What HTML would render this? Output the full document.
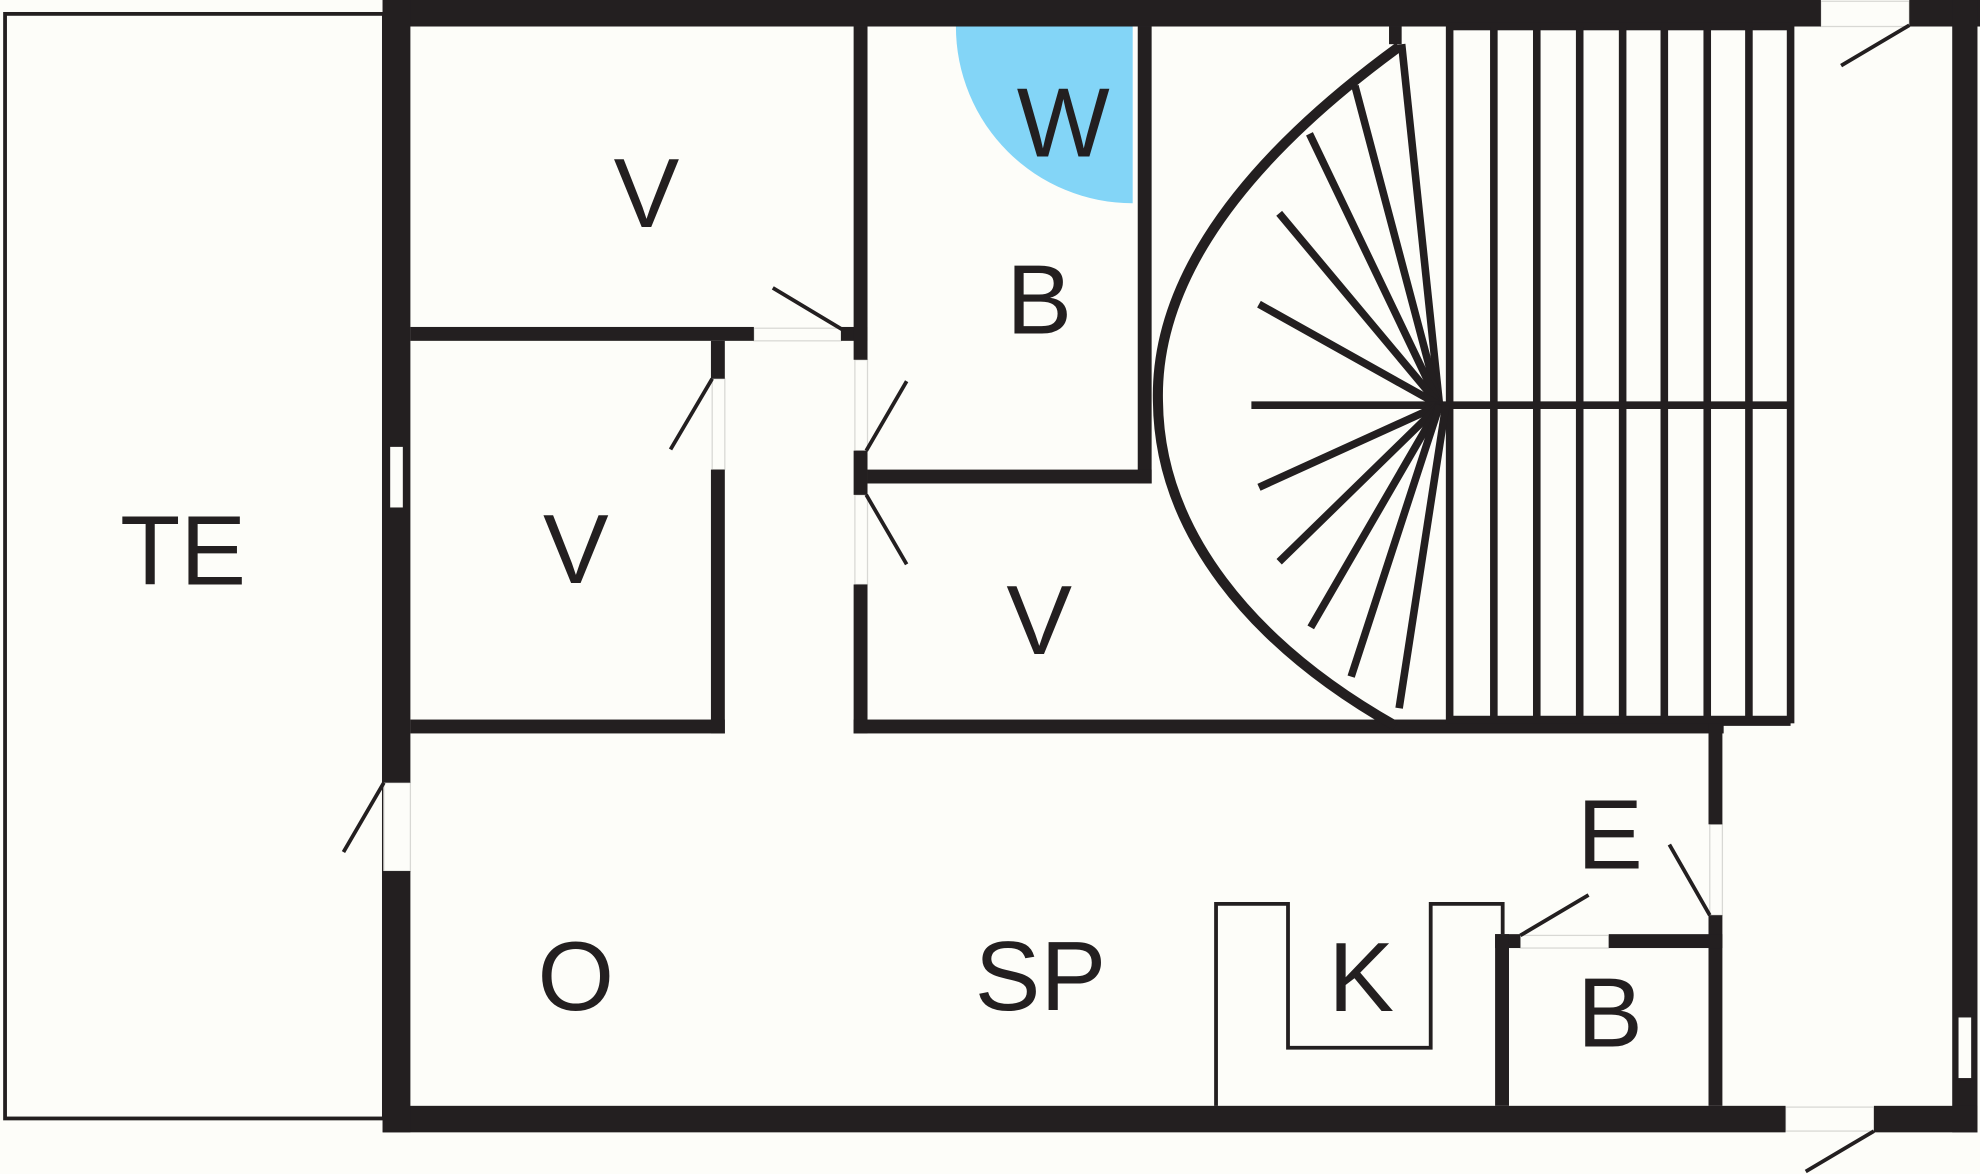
<!DOCTYPE html>
<html><head><meta charset="utf-8"><style>html,body{margin:0;padding:0;background:#fdfdf9}svg{display:block}</style></head><body>
<svg width="1980" height="1174" viewBox="0 0 1568 930" preserveAspectRatio="none" xmlns="http://www.w3.org/2000/svg">
<rect width="1568" height="930" fill="#fdfdf9"/>
<rect x="4" y="11" width="300" height="875" fill="none" stroke="#231f20" stroke-width="3"/>
<path d="M757,21 A140,140 0 0 0 897,161 L897,21 Z" fill="#83d5f7"/>
<g fill="#fdfdf9" stroke="#d8d8d4" stroke-width="1">
<rect x="564" y="300" width="10" height="72"/>
<rect x="677" y="285" width="10" height="72"/>
<rect x="677" y="392" width="10" height="71"/>
<rect x="304" y="620" width="21" height="70"/>
<rect x="1354" y="653" width="10" height="72"/>
<rect x="597" y="260" width="69" height="10"/>
<rect x="1442" y="1" width="70" height="20"/>
<rect x="1414" y="877" width="70" height="19"/>
<rect x="1204" y="741" width="70" height="10"/>
</g>
<g fill="#231f20">
<rect x="303" y="0" width="1139" height="21"/>
<rect x="1512" y="0" width="56" height="21"/>
<rect x="1546" y="0" width="20" height="897"/>
<rect x="303" y="876" width="1111" height="21"/>
<rect x="1484" y="876" width="82" height="21"/>
<rect x="303" y="0" width="22" height="620"/>
<rect x="303" y="690" width="22" height="207"/>
<rect x="325" y="259" width="272" height="11"/>
<rect x="666" y="259" width="21" height="11"/>
<rect x="676" y="21" width="11" height="264"/>
<rect x="676" y="357" width="11" height="35"/>
<rect x="676" y="463" width="11" height="118"/>
<rect x="563" y="270" width="11" height="30"/>
<rect x="563" y="372" width="11" height="209"/>
<rect x="325" y="570" width="249" height="11"/>
<rect x="676" y="570" width="689" height="11"/>
<rect x="901" y="21" width="11" height="362"/>
<rect x="687" y="372" width="225" height="11"/>
<rect x="1353" y="570" width="11" height="83"/>
<rect x="1353" y="725" width="11" height="151"/>
<rect x="1274" y="740" width="90" height="11"/>
<rect x="1184" y="740" width="20" height="11"/>
<rect x="1184" y="740" width="11" height="136"/>
<rect x="1100" y="21" width="10" height="14"/>
</g>
<g fill="#fdfdf9" stroke="#231f20" stroke-width="2">
<rect x="308" y="353" width="12" height="50"/>
<rect x="1550" y="805" width="12" height="50"/>
</g>
<polyline points="963,876 963,716 1020,716 1020,830 1133,830 1133,716 1190,716 1190,740" fill="none" stroke="#231f20" stroke-width="3"/>
<g stroke="#231f20" stroke-width="6" fill="none">
<rect x="1148" y="21" width="270" height="549"/>
<line x1="1183" y1="21" x2="1183" y2="570"/><line x1="1217" y1="21" x2="1217" y2="570"/>
<line x1="1251" y1="21" x2="1251" y2="570"/><line x1="1285" y1="21" x2="1285" y2="570"/>
<line x1="1318" y1="21" x2="1318" y2="570"/><line x1="1352" y1="21" x2="1352" y2="570"/>
<line x1="1385" y1="21" x2="1385" y2="570"/>
<line x1="1140" y1="321" x2="1418" y2="321"/>
<line x1="1364" y1="572" x2="1418" y2="572"/>
<path d="M1108,37 C960,145 915,240 917,318 C918,420 990,510 1105,575" stroke-width="8"/>
<line x1="1140" y1="321" x2="1110" y2="35"/>
<line x1="1140" y1="321" x2="1073" y2="68"/>
<line x1="1140" y1="321" x2="1037" y2="106"/>
<line x1="1140" y1="321" x2="1013" y2="169"/>
<line x1="1140" y1="321" x2="997" y2="241"/>
<line x1="1140" y1="321" x2="991" y2="321"/>
<line x1="1140" y1="321" x2="997" y2="386"/>
<line x1="1140" y1="321" x2="1013" y2="445"/>
<line x1="1140" y1="321" x2="1038" y2="497"/>
<line x1="1140" y1="321" x2="1070" y2="536"/>
<line x1="1145" y1="321" x2="1108" y2="561"/>
</g>
<g stroke="#231f20" stroke-width="3">
<line x1="667" y1="261" x2="612" y2="228"/>
<line x1="564" y1="300" x2="531" y2="356"/>
<line x1="686" y1="357" x2="718" y2="302"/>
<line x1="686" y1="392" x2="718" y2="447"/>
<line x1="304" y1="620" x2="272" y2="675"/>
<line x1="1204" y1="741" x2="1258" y2="709"/>
<line x1="1354" y1="725" x2="1322" y2="669"/>
<line x1="1512" y1="20" x2="1458" y2="52"/>
<line x1="1484" y1="896" x2="1430" y2="928"/>
</g>
<g font-family="Liberation Sans, sans-serif" font-size="78" fill="#231f20" text-anchor="middle">
<text x="145" y="463">TE</text>
<text x="512" y="180">V</text>
<text x="456" y="462">V</text>
<text x="823" y="518">V</text>
<text x="842" y="124">W</text>
<text x="823" y="264">B</text>
<text x="456" y="800">O</text>
<text x="824" y="800">SP</text>
<text x="1078" y="801">K</text>
<text x="1275" y="688">E</text>
<text x="1275" y="829">B</text>
</g>
</svg>
</body></html>
